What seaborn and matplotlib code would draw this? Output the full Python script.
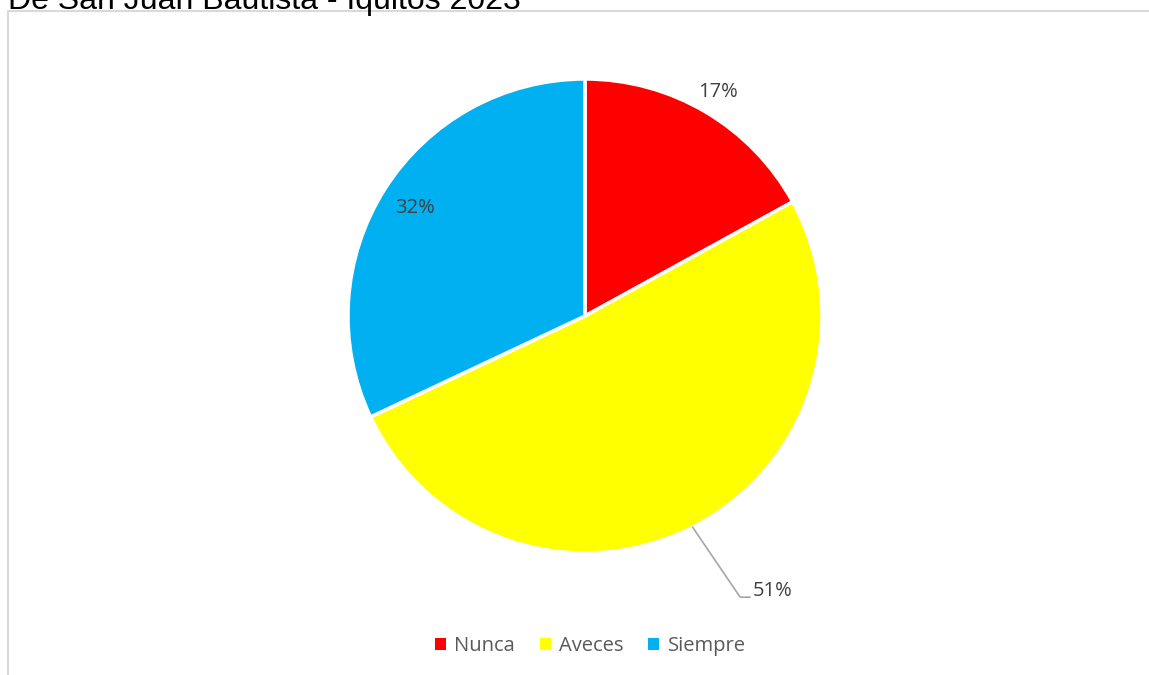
import numpy as np
import matplotlib.pyplot as plt
import seaborn as sns
from matplotlib.patches import Rectangle
from matplotlib.lines import Line2D

# Data
categories = ['Nunca', 'Aveces', 'Siempre']
percents = [17, 51, 32]
colors = ['#FF0000', '#FFFF00', '#00B0F0']
title = 'De San Juan Bautista - Iquitos 2023'

sns.set_theme(style='white')
plt.rcParams['font.family'] = ['Open Sans', 'DejaVu Sans']

W, H = 1149, 675
fig = plt.figure(figsize=(W / 100, H / 100), dpi=100)
ax = fig.add_axes([0, 0, 1, 1])

# pie in pixel coordinates (y measured upward)
cx, cy, r = 585, H - 316, 237
wedges, _ = ax.pie(percents, colors=colors, startangle=90, counterclock=False,
                   center=(cx, cy), radius=r,
                   wedgeprops=dict(edgecolor='white', linewidth=2.5))
ax.set_xlim(0, W)
ax.set_ylim(0, H)
ax.set_aspect('auto')
ax.axis('off')

label_color = '#404040'
fs = 14.5
for w, p in zip(wedges, percents):
    mid = np.deg2rad((w.theta1 + w.theta2) / 2)
    txt = f'{p}%'
    if p == 17:
        x, y = cx + 1.10 * r * np.cos(mid), cy + 1.10 * r * np.sin(mid)
        ax.text(x, y, txt, ha='center', va='center', fontsize=fs, color=label_color)
    elif p == 32:
        x, y = cx + 0.85 * r * np.cos(mid), cy + 0.85 * r * np.sin(mid)
        ax.text(x, y, txt, ha='center', va='center', fontsize=fs, color=label_color)
    else:
        # outside label with leader line
        x0, y0 = cx + r * np.cos(mid), cy + r * np.sin(mid)
        x1, y1 = cx + 1.355 * r * np.cos(mid + 0.033), cy + 1.355 * r * np.sin(mid + 0.033)
        ax.add_line(Line2D([x0, x1, x1 + 10], [y0, y1, y1], color='#A6A6A6', lw=1.2))
        ax.text(x1 + 13, y1 + 6, txt, ha='left', va='center', fontsize=fs, color=label_color)

# chart border (partially visible)
ax.add_line(Line2D([8, 8, W + 5], [-5, H - 11, H - 11], color='#D9D9D9', lw=1.5))

# title cut off at the top
fig.text(8 / W, (H - 9) / H, title, ha='left', va='baseline',
         fontsize=23, color='black', family=['Liberation Sans', 'DejaVu Sans'])

handles = [Rectangle((0, 0), 1, 1, facecolor=c, edgecolor='none') for c in colors]
ax.legend(handles, categories, loc='center', bbox_to_anchor=(590 / W, 1 - 646 / H),
          ncol=3, frameon=False, handlelength=0.55, handleheight=0.55,
          handletextpad=0.4, columnspacing=1.25,
          prop={'size': fs}, labelcolor='#595959')

fig.savefig('out.png', dpi=100)
